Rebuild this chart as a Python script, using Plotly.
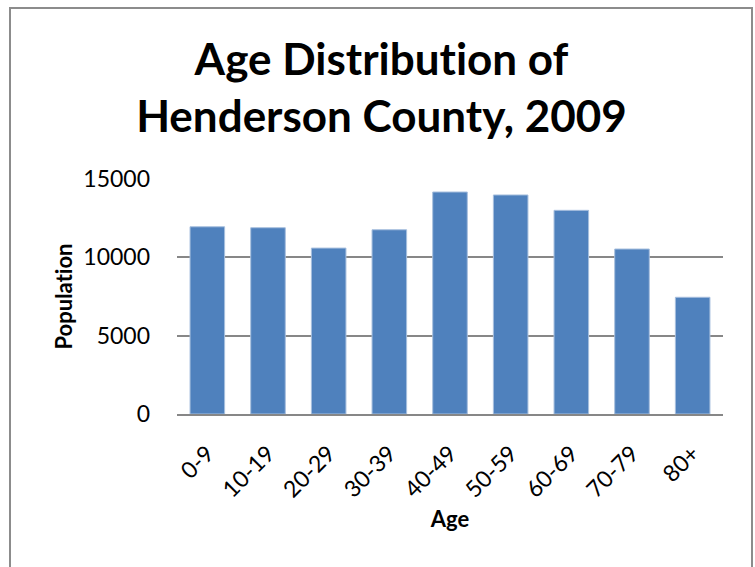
import plotly.graph_objects as go

# Population by age group, Henderson County, 2009
age_groups = ["0-9", "10-19", "20-29", "30-39", "40-49", "50-59", "60-69", "70-79", "80+"]
population = [11950, 11890, 10590, 11760, 14170, 13980, 13000, 10530, 7450]
y_ticks = [0, 5000, 10000, 15000]
y_tick_labels = ["0", "5000", "10000", "15000"]

FONT = "Lato, 'Open Sans', sans-serif"
BAR_BLUE = "#4F81BD"
GRID_GRAY = "#878787"
ZWNJ = "\u200c"  # keeps Lato from drawing the "ti" ligature

fig = go.Figure(
    go.Bar(
        x=age_groups,
        y=population,
        marker=dict(color=BAR_BLUE, line=dict(color="#A7BFDE", width=1)),
    )
)

W, H = 755, 567
L, R, T, B = 177, 32, 179, 153

fig.update_layout(
    width=W,
    height=H,
    margin=dict(l=L, r=R, t=T, b=B),
    paper_bgcolor="white",
    plot_bgcolor="white",
    bargap=0.43,
    showlegend=False,
    font=dict(family=FONT, color="black"),
    title=dict(
        text=f"<b>Age Distribut{ZWNJ}ion of<br>Henderson County, 2009</b>",
        font=dict(family=FONT, size=44, color="black"),
        x=381.5 / W,
        xanchor="center",
        xref="container",
        y=1 - 75 / H,
        yanchor="middle",
        yref="container",
    ),
    xaxis=dict(
        tickangle=-45,
        tickfont=dict(size=23),
        showline=True,
        linecolor=GRID_GRAY,
        linewidth=2,
        ticks="",
        ticklabelstandoff=15,
        title=dict(text="<b>Age</b>", font=dict(size=22), standoff=10),
    ),
    yaxis=dict(
        range=[0, 15000],
        tickvals=y_ticks,
        ticktext=y_tick_labels,
        tickfont=dict(size=23),
        showgrid=True,
        gridcolor=GRID_GRAY,
        gridwidth=2,
        zeroline=False,
        showline=False,
        ticks="",
        ticklabelstandoff=26,
        title=dict(text=f"<b>Populat{ZWNJ}ion</b>", font=dict(size=22), standoff=4),
    ),
    shapes=[
        dict(
            type="path",
            xref="paper",
            yref="paper",
            path="M {x0},{y0} L {x0},{y1} L {x2},{y1} L {x2},{y0}".format(
                x0=(10 - L) / (W - L - R),
                x2=(752 - L) / (W - L - R),
                y0=(H - B - 600) / (H - T - B),
                y1=(H - B - 8) / (H - T - B),
            ),
            line=dict(color="#8C8C8C", width=2),
            layer="above",
        )
    ],
)

fig.write_html("out.html")
